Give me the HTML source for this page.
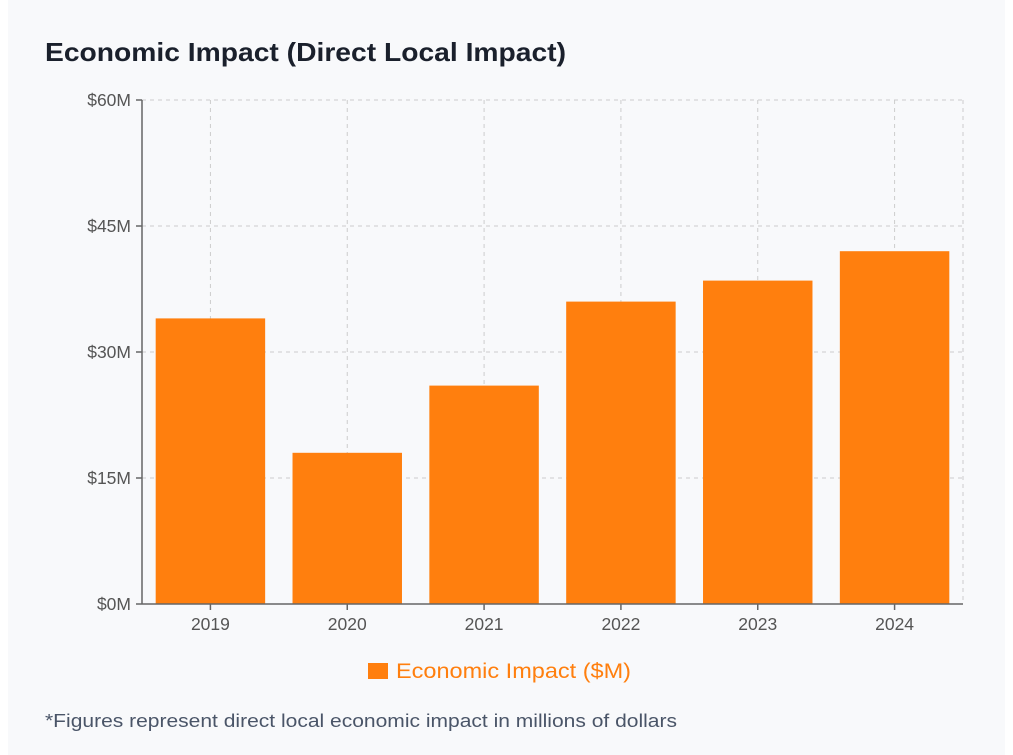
<!DOCTYPE html>
<html><head><meta charset="utf-8"><style>
html,body{margin:0;padding:0;background:#fff;}
body{width:1013px;height:755px;overflow:hidden;font-family:"Liberation Sans",sans-serif;}
#card{position:absolute;left:8px;top:0;width:997px;height:755px;background:#f8f9fb;}
svg{position:absolute;left:0;top:0;}
</style></head><body>
<div id="card"></div>
<svg id="chart" width="1013" height="755">
<text x="45" y="61" font-size="26" font-weight="bold" fill="#1a202c" textLength="521" lengthAdjust="spacingAndGlyphs">Economic Impact (Direct Local Impact)</text>
<g id="grid"></g>
<g id="bars"></g>
<g id="axes"></g>
<g>
<rect x="368" y="663" width="20" height="16" fill="#ff7f0e"/>
<text x="396" y="678" font-size="21" fill="#ff7f0e" textLength="235" lengthAdjust="spacingAndGlyphs">Economic Impact ($M)</text>
</g>
<text x="45" y="727" font-size="18" fill="#4a5568" textLength="632" lengthAdjust="spacingAndGlyphs">*Figures represent direct local economic impact in millions of dollars</text>
</svg>
<script>
const categories = ["2019","2020","2021","2022","2023","2024"];
const values = [34, 18, 26, 36, 38.5, 42];
const yTicks = [0, 15, 30, 45, 60];
const yTickLabels = ["$0M","$15M","$30M","$45M","$60M"];
const yMax = 60;

const NS = "http://www.w3.org/2000/svg";
const L = 142, R = 963, T = 100, B = 604;
const band = (R - L) / categories.length;
const pad = 0.2;
function x(i){ return L + band * i; }
function y(v){ return B - (v / yMax) * (B - T); }
function mk(tag, attrs, parent){
  const e = document.createElementNS(NS, tag);
  for (const k in attrs) e.setAttribute(k, attrs[k]);
  parent.appendChild(e); return e;
}
const grid = document.getElementById('grid');
const bars = document.getElementById('bars');
const axes = document.getElementById('axes');
yTicks.forEach((t, i) => {
  if (t > 0) {
    const g = mk('line', {x1:L, x2:R, y1:y(t), y2:y(t), stroke:'#cccccc', 'stroke-dasharray':'4 4', 'stroke-width':1}, grid);
    
    
  }
  const tk = mk('line', {x1:L-6, x2:L, y1:y(t), y2:y(t), stroke:'#666', 'stroke-width':1.5}, axes);
  
  
  const lb = mk('text', {x:L-11, y:y(t)+6, 'text-anchor':'end', 'font-size':17.5, fill:'#555'}, axes);
  lb.textContent = yTickLabels[i];
  
  
});
categories.forEach((c, i) => {
  const cx = x(i) + band / 2;
  const g = mk('line', {x1:cx, x2:cx, y1:T, y2:B, stroke:'#cccccc', 'stroke-dasharray':'4 4', 'stroke-width':1}, grid);
  
  
  const bw = band * (1 - pad);
  const r = mk('rect', {x:x(i) + band*pad/2, y:y(values[i]), width:bw, height:B - y(values[i]), fill:'#ff7f0e'}, bars);
  
  
  const tk = mk('line', {x1:cx, x2:cx, y1:B, y2:B+6, stroke:'#666', 'stroke-width':1.5}, axes);
  
  
  const lb = mk('text', {x:cx, y:B+26, 'text-anchor':'middle', 'font-size':17.5, fill:'#555'}, axes);
  lb.textContent = c;
  
  
});
const rg = mk('line', {x1:R, x2:R, y1:T, y2:B, stroke:'#cccccc', 'stroke-dasharray':'4 4', 'stroke-width':1}, grid);


const ya = mk('line', {x1:L, x2:L, y1:T, y2:B, stroke:'#666', 'stroke-width':1.5}, axes);


const xa = mk('line', {x1:L, x2:R, y1:B, y2:B, stroke:'#666', 'stroke-width':1.5}, axes);


</script>
</body></html>
